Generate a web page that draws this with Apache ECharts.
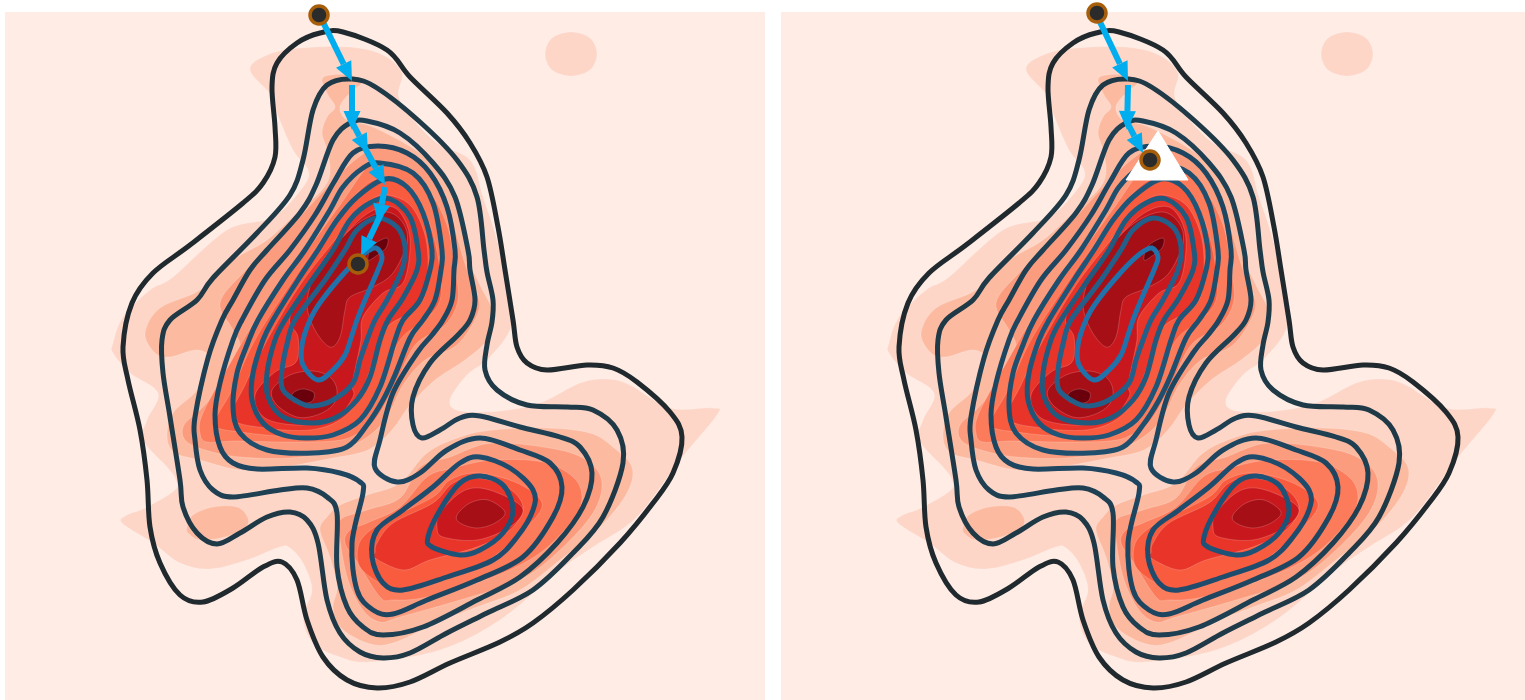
<!DOCTYPE html>
<html><head><meta charset="utf-8"><style>html,body{margin:0;background:#fff}#c{width:1525px;height:700px}</style>
<script src="https://cdn.jsdelivr.net/npm/echarts@6/dist/echarts.min.js"></script></head><body><div id="c"></div><script>
// density bands (lightest to darkest), values in data units
const band1a=[[250,70],[267,55],[300,48],[350,47],[383,55],[402,73],[400,100],[433,140],[470,160],[483,197],[497,240],[510,300],[510,330],[487,360],[467,375],[450,400],[460,411],[500,411],[540,403],[580,383],[607,379],[630,385],[670,408],[713,408],[717,415],[680,460],[637,517],[593,547],[560,570],[500,620],[440,650],[370,662],[340,657],[313,643],[303,617],[312,590],[303,563],[290,548],[280,547],[247,560],[210,569],[180,563],[153,543],[122,523],[127,515],[145,508],[175,490],[175,478],[167,467],[143,440],[147,420],[158,393],[130,373],[113,353],[113,343],[123,317],[150,290],[173,277],[227,230],[273,217],[303,187],[308,170],[293,150],[277,113],[273,97]];
const band1b=[[545,54],[552,38],[571,32],[590,38],[597,54],[590,70],[571,76],[552,70]];
const band2a=[[145,333],[160,308],[200,290],[233,260],[267,240],[300,210],[322,190],[330,173],[327,150],[322,133],[327,117],[335,107],[328,95],[322,80],[330,75],[350,75],[362,82],[350,93],[340,107],[347,120],[373,127],[420,153],[450,183],[463,220],[468,257],[480,285],[494,315],[487,340],[465,360],[435,380],[410,405],[392,430],[368,450],[333,458],[283,467],[240,470],[200,460],[175,453],[167,437],[173,413],[197,390],[210,360],[197,350],[170,357],[155,353]];
const band2b=[[320,530],[327,517],[340,505],[367,495],[400,483],[427,453],[460,437],[493,430],[547,428],[590,433],[613,447],[632,467],[627,493],[600,527],[560,560],[520,590],[477,607],[443,620],[393,643],[367,643],[340,627],[333,607],[337,587],[330,557]];
const band2c=[[187,527],[193,515],[213,507],[237,507],[248,518],[245,528],[225,537],[200,540],[188,533]];
const band3a=[[220,303],[243,273],[283,235],[320,195],[355,160],[385,145],[420,165],[445,195],[458,240],[467,270],[477,293],[478,313],[457,345],[425,360],[403,385],[388,415],[370,435],[340,450],[290,458],[240,457],[205,450],[185,440],[184,425],[200,410],[222,385],[240,350],[233,330]];
const band3b=[[340,540],[340,520],[367,510],[400,498],[420,467],[450,457],[493,443],[560,450],[590,463],[602,483],[593,513],[560,550],[520,580],[460,600],[400,617],[380,622],[363,610],[348,580]];
const band4a=[[203,413],[232,360],[262,310],[300,260],[340,205],[370,165],[395,165],[425,185],[447,225],[455,270],[458,300],[445,325],[415,345],[395,385],[375,420],[355,435],[333,441],[283,442],[235,441],[207,442],[200,433]];
const band4b=[[345,543],[350,530],[367,523],[400,507],[427,477],[453,468],[493,460],[543,462],[573,477],[582,497],[573,520],[540,553],[493,577],[427,597],[393,600],[380,597],[358,563]];
const band5a=[[215,420],[232,390],[255,340],[290,285],[325,235],[360,190],[385,178],[410,192],[430,225],[440,270],[440,300],[425,320],[400,340],[380,385],[362,420],[335,436],[280,436],[240,432],[218,428]];
const band5b=[[358,547],[367,533],[387,520],[433,497],[450,480],[477,473],[517,483],[542,503],[527,527],[493,557],[460,573],[403,590],[380,583],[360,567]];
const band6a=[[232,418],[245,385],[270,335],[300,285],[335,240],[365,205],[385,195],[410,205],[425,235],[428,270],[423,300],[405,315],[385,330],[370,370],[358,400],[340,420],[310,430],[265,428]];
const band6b=[[375,553],[377,543],[393,523],[433,503],[453,483],[477,478],[507,487],[523,507],[510,530],[477,547],[430,560],[403,570],[373,557]];
const band7a=[[255,395],[275,372],[296,362],[298,337],[290,317],[315,280],[345,235],[370,212],[393,207],[407,225],[410,250],[403,283],[383,293],[363,317],[361,340],[356,365],[352,385],[353,397],[335,418],[300,425],[265,418]];
const band7b=[[437,527],[440,513],[460,493],[480,488],[507,497],[523,510],[510,527],[477,540],[443,537]];
const band8a=[[307,303],[315,330],[330,347],[340,337],[345,310],[350,297],[373,287],[393,273],[407,243],[403,223],[387,212],[363,220],[340,240],[317,270]];
const band8b=[[272,390],[290,375],[313,371],[330,377],[337,390],[333,405],[317,415],[297,417],[277,405]];
const band8c=[[457,515],[470,503],[488,500],[505,512],[495,523],[477,528],[460,523]];
const band9a=[[292,400],[293,393],[303,389],[314,393],[311,402],[297,403]];
const band9b=[[368,260],[372,246],[387,238],[386,248],[376,256]];
// contour levels, outermost to innermost
const contour1=[[343,32],[387,50],[410,77],[447,113],[470,143],[487,177],[498,227],[505,270],[513,320],[517,347],[527,363],[547,370],[587,365],[613,368],[637,382],[670,412],[682,437],[673,473],[653,503],[620,543],[573,590],[533,623],[500,642],[450,663],[410,682],[377,688],[347,680],[323,657],[307,620],[297,580],[282,562],[263,567],[233,588],[203,602],[180,595],[160,563],[150,527],[147,480],[140,430],[128,380],[123,347],[132,303],[153,273],[190,245],[243,203],[263,183],[275,157],[275,127],[272,87],[277,63],[297,43],[320,33]];
const contour2=[[352,79],[377,88],[420,122],[457,160],[477,197],[484,250],[487,272],[493,300],[492,322],[487,345],[485,370],[497,390],[527,405],[567,407],[593,410],[617,430],[623,463],[603,517],[573,553],[533,590],[487,613],[447,633],[410,653],[383,658],[360,652],[340,633],[327,600],[318,543],[307,520],[290,512],[267,517],[240,533],[217,544],[197,533],[183,507],[180,480],[170,417],[163,373],[162,340],[170,320],[197,300],[213,278],[257,233],[290,195],[303,160],[313,110],[327,85]];
const contour3=[[367,121],[400,133],[433,163],[455,197],[468,250],[470,270],[475,300],[470,320],[458,335],[430,363],[413,397],[413,425],[422,438],[440,430],[460,418],[480,416],[520,427],[560,437],[580,447],[592,473],[583,507],[557,543],[520,577],[477,600],[423,627],[383,635],[363,627],[347,607],[337,567],[337,513],[327,497],[307,488],[280,490],[233,497],[213,490],[200,470],[195,440],[195,417],[208,358],[222,320],[233,300],[250,270],[267,250],[300,213],[316,185],[333,140],[350,123]];
const contour4=[[378,146],[407,153],[430,173],[447,207],[455,250],[454,270],[452,300],[443,320],[432,335],[417,353],[393,393],[380,440],[375,468],[397,482],[420,473],[447,450],[480,438],[520,450],[550,463],[562,487],[553,517],[523,557],[477,580],[427,600],[393,614],[373,610],[357,590],[352,543],[363,493],[360,482],[340,473],[307,468],[257,469],[233,463],[220,447],[215,415],[220,383],[233,340],[242,320],[265,280],[290,250],[315,215],[334,182],[353,153]];
const contour5=[[380,163],[413,173],[433,203],[442,250],[441,270],[435,300],[423,320],[410,338],[395,375],[383,400],[367,425],[347,447],[313,453],[267,450],[240,433],[233,407],[237,373],[247,345],[258,320],[283,280],[305,250],[330,210],[343,187],[363,168]];
const contour6=[[385,179],[407,187],[423,213],[432,250],[430,270],[420,300],[403,320],[395,340],[380,387],[360,420],[333,435],[307,438],[283,435],[263,423],[252,400],[253,373],[263,340],[273,320],[298,280],[318,250],[337,220],[357,197]];
const contour7=[[390,199],[410,217],[418,250],[417,270],[403,298],[388,320],[380,340],[370,377],[357,400],[337,417],[313,423],[283,417],[268,397],[267,373],[275,340],[285,320],[312,280],[333,250],[350,220],[370,203]];
const contour8=[[377,218],[397,227],[405,247],[402,270],[387,300],[375,320],[367,340],[360,360],[353,383],[333,400],[313,406],[300,403],[283,390],[282,370],[288,340],[295,320],[325,280],[345,250],[357,230]];
const contour9=[[376,248],[382,257],[378,270],[365,300],[357,320],[352,335],[345,355],[333,370],[318,380],[303,365],[302,345],[310,320],[322,300],[347,270],[365,253]];
const lobeRing1=[[480,457],[510,468],[533,490],[533,510],[517,537],[493,560],[447,577],[403,590],[383,583],[372,557],[377,530],[403,510],[433,487],[460,463]];
const lobeRing2=[[480,476],[503,485],[513,510],[503,533],[480,550],[460,555],[432,547],[428,537],[440,510],[460,483]];
// gradient descent steps: x0,y0,x1,y1
const stepsLeft=[[322,20,352,81],[352,85,352,130],[350,118,368,153],[365,148,385,185],[385,187,378,223],[381,214,361,256]];
const stepsRight=[[324,22,352,81],[352,85,351,130],[350,120,367,153]];
const startLeft=[319,15], endLeft=[358,264];
const startRight=[321,13], endRight=[374,160];
const triangle=[[382,131],[412,180],[350,180]];

const bands=[[band1a,'#fdd6c8'],[band1b,'#fdd6c8'],[band2a,'#fcbba1'],[band2b,'#fcbba1'],[band2c,'#fcbba1'],[band3a,'#fc9c7e'],[band3b,'#fc9c7e'],[band4a,'#fb7b5b'],[band4b,'#fb7b5b'],[band5a,'#f85b3e'],[band5b,'#f85b3e'],[band6a,'#e93529'],[band6b,'#e93529'],[band7a,'#c9181d'],[band7b,'#c9181d'],[band8a,'#a60f15'],[band8b,'#a60f15'],[band8c,'#a60f15'],[band9a,'#6a000c'],[band9b,'#6a000c']];
const lines=[[contour1,'#20292e'],[contour2,'#1f3947'],[contour3,'#1f3f52'],[contour4,'#1f4660'],[contour5,'#204f6e'],[contour6,'#215577'],[contour7,'#225a7e'],[contour8,'#235f88'],[contour9,'#2171aa'],[lobeRing1,'#1f4b6c'],[lobeRing2,'#1f5277']];

function closedPath(p){
  const n=p.length;let d='M'+p[0][0]+' '+p[0][1];
  for(let i=0;i<n;i++){
    const a=p[(i-1+n)%n],b=p[i],c=p[(i+1)%n],e=p[(i+2)%n];
    d+='C'+(b[0]+(c[0]-a[0])/6)+' '+(b[1]+(c[1]-a[1])/6)+' '+(c[0]-(e[0]-b[0])/6)+' '+(c[1]-(e[1]-b[1])/6)+' '+c[0]+' '+c[1];
  }
  return d+'Z';
}
function shape(pts,idx,style,z){
  return {type:'custom',coordinateSystem:'cartesian2d',xAxisIndex:idx,yAxisIndex:idx,data:pts,encode:{x:0,y:1},z,silent:true,clip:false,animation:false,
    renderItem(params,api){
      if(params.dataIndex!==0)return null;
      return {type:'path',shape:{pathData:closedPath(pts.map(q=>api.coord(q)))},style};
    }};
}
function corner(pts,idx,style,z){
  return {type:'custom',coordinateSystem:'cartesian2d',xAxisIndex:idx,yAxisIndex:idx,data:pts,encode:{x:0,y:1},z,silent:true,clip:false,animation:false,
    renderItem(params,api){
      if(params.dataIndex!==0)return null;
      return {type:'polygon',shape:{points:pts.map(q=>api.coord(q))},style};
    }};
}
function arrows(steps,idx){
  return {type:'custom',coordinateSystem:'cartesian2d',xAxisIndex:idx,yAxisIndex:idx,data:steps,encode:{x:[0,2],y:[1,3]},z:20,silent:true,clip:false,animation:false,
    renderItem(params,api){
      const a=api.coord([api.value(0),api.value(1)]),b=api.coord([api.value(2),api.value(3)]);
      const dx=b[0]-a[0],dy=b[1]-a[1],l=Math.hypot(dx,dy),ux=dx/l,uy=dy/l,hl=19,hw=8.5;
      const bx=b[0]-ux*hl,by=b[1]-uy*hl;
      return {type:'group',children:[
        {type:'line',shape:{x1:a[0],y1:a[1],x2:bx,y2:by},style:{stroke:'#00aeef',lineWidth:6}},
        {type:'polygon',shape:{points:[b,[bx-uy*hw,by+ux*hw],[bx+uy*hw,by-ux*hw]]},style:{fill:'#00aeef'}}
      ]};
    }};
}
function marks(pts,idx){
  return {type:'scatter',xAxisIndex:idx,yAxisIndex:idx,data:pts,symbolSize:18,clip:false,z:30,silent:true,animation:false,
    itemStyle:{color:'#2b2b2b',borderColor:'#a65e0a',borderWidth:3.5,opacity:1}};
}
const series=[];
[0,1].forEach(idx=>{
  bands.forEach(([p,c])=>series.push(shape(p,idx,{fill:c,stroke:'rgba(255,255,255,0.3)',lineWidth:0.6},2)));
  lines.forEach(([p,c])=>series.push(shape(p,idx,{fill:'none',stroke:c,lineWidth:5,lineJoin:'round'},5)));
});
series.push(corner(triangle,1,{fill:'#fff',stroke:'#fff',lineWidth:1,lineJoin:'round'},10));
series.push(arrows(stepsLeft,0),arrows(stepsRight,1));
series.push(marks([startLeft,endLeft],0),marks([startRight,endRight],1));
const ax=(min,max,extra)=>Object.assign({type:'value',min,max,show:false,splitLine:{show:false}},extra);
echarts.init(document.getElementById('c'),null,{renderer:'canvas'}).setOption({
  animation:false,
  grid:[
    {left:5,top:12,width:760,height:688,show:true,backgroundColor:'#ffece4',borderWidth:0},
    {left:781,top:12,width:744,height:688,show:true,backgroundColor:'#ffece4',borderWidth:0}],
  xAxis:[ax(5,765,{gridIndex:0}),ax(5,749,{gridIndex:1})],
  yAxis:[ax(12,700,{gridIndex:0,inverse:true}),ax(12,700,{gridIndex:1,inverse:true})],
  series
});
</script></body></html>
